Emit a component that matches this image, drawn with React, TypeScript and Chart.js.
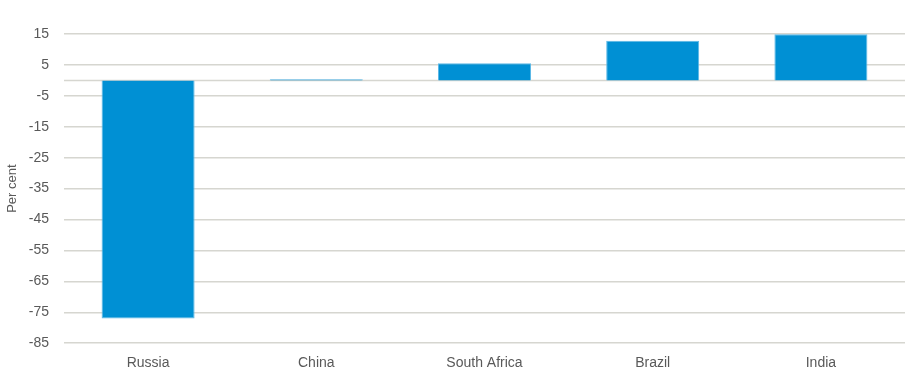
import React, { useEffect, useRef } from "react";
import { Chart, registerables } from "chart.js";

Chart.register(...registerables);

const categories = ["Russia", "China", "South Africa", "Brazil", "India"];
const values = [-77, 0.4, 5.5, 12.8, 14.9];
const yMin = -85;
const yMax = 15;
const yStep = 10;
const yTitle = "Per cent";

const FONT = "'Liberation Sans', Arial, sans-serif";

const zeroLine = {
  id: "zeroLine",
  beforeDatasetsDraw(chart: any) {
    const y = chart.scales.y.getPixelForValue(0);
    const { left, right } = chart.chartArea;
    const ctx = chart.ctx;
    ctx.save();
    ctx.strokeStyle = "#d6d6d0";
    ctx.lineWidth = 1.5;
    ctx.beginPath();
    ctx.moveTo(left, y);
    ctx.lineTo(right, y);
    ctx.stroke();
    ctx.restore();
  },
};

export default function App() {
  const ref = useRef<HTMLCanvasElement>(null);
  useEffect(() => {
    document.body.style.margin = "0";
    const chart = new Chart(ref.current!, {
      type: "bar",
      data: {
        labels: categories,
        datasets: [
          {
            data: values,
            backgroundColor: "#0090d4",
            borderColor: "#5cb8e6",
            borderWidth: 1,
            barPercentage: 0.553,
            categoryPercentage: 1,
          },
        ],
      },
      options: {
        animation: false,
        responsive: false,
        maintainAspectRatio: false,
        layout: { padding: { top: 34, right: 0, bottom: 7, left: 5 } },
        plugins: { legend: { display: false }, tooltip: { enabled: false } },
        scales: {
          x: {
            grid: { display: false },
            border: { display: false },
            ticks: { color: "#595959", font: { family: FONT, size: 14 }, padding: 4 },
          },
          y: {
            min: yMin,
            max: yMax,
            afterBuildTicks(scale: any) {
              const t = [];
              for (let v = yMin; v <= yMax; v += yStep) t.push({ value: v });
              scale.ticks = t;
            },
            afterFit(scale: any) {
              scale.width = 59;
            },
            grid: { color: "#d6d6d0", lineWidth: 1.5, drawTicks: false },
            border: { display: false },
            ticks: { color: "#595959", font: { family: FONT, size: 14 }, padding: 15 },
            title: {
              display: true,
              text: yTitle,
              color: "#595959",
              font: { family: FONT, size: 13 },
              padding: 0,
            },
          },
        },
      },
      plugins: [zeroLine],
    });
    return () => chart.destroy();
  }, []);
  return (
    <div style={{ width: 905, height: 383 }}>
      <canvas ref={ref} width={905} height={383} />
    </div>
  );
}
